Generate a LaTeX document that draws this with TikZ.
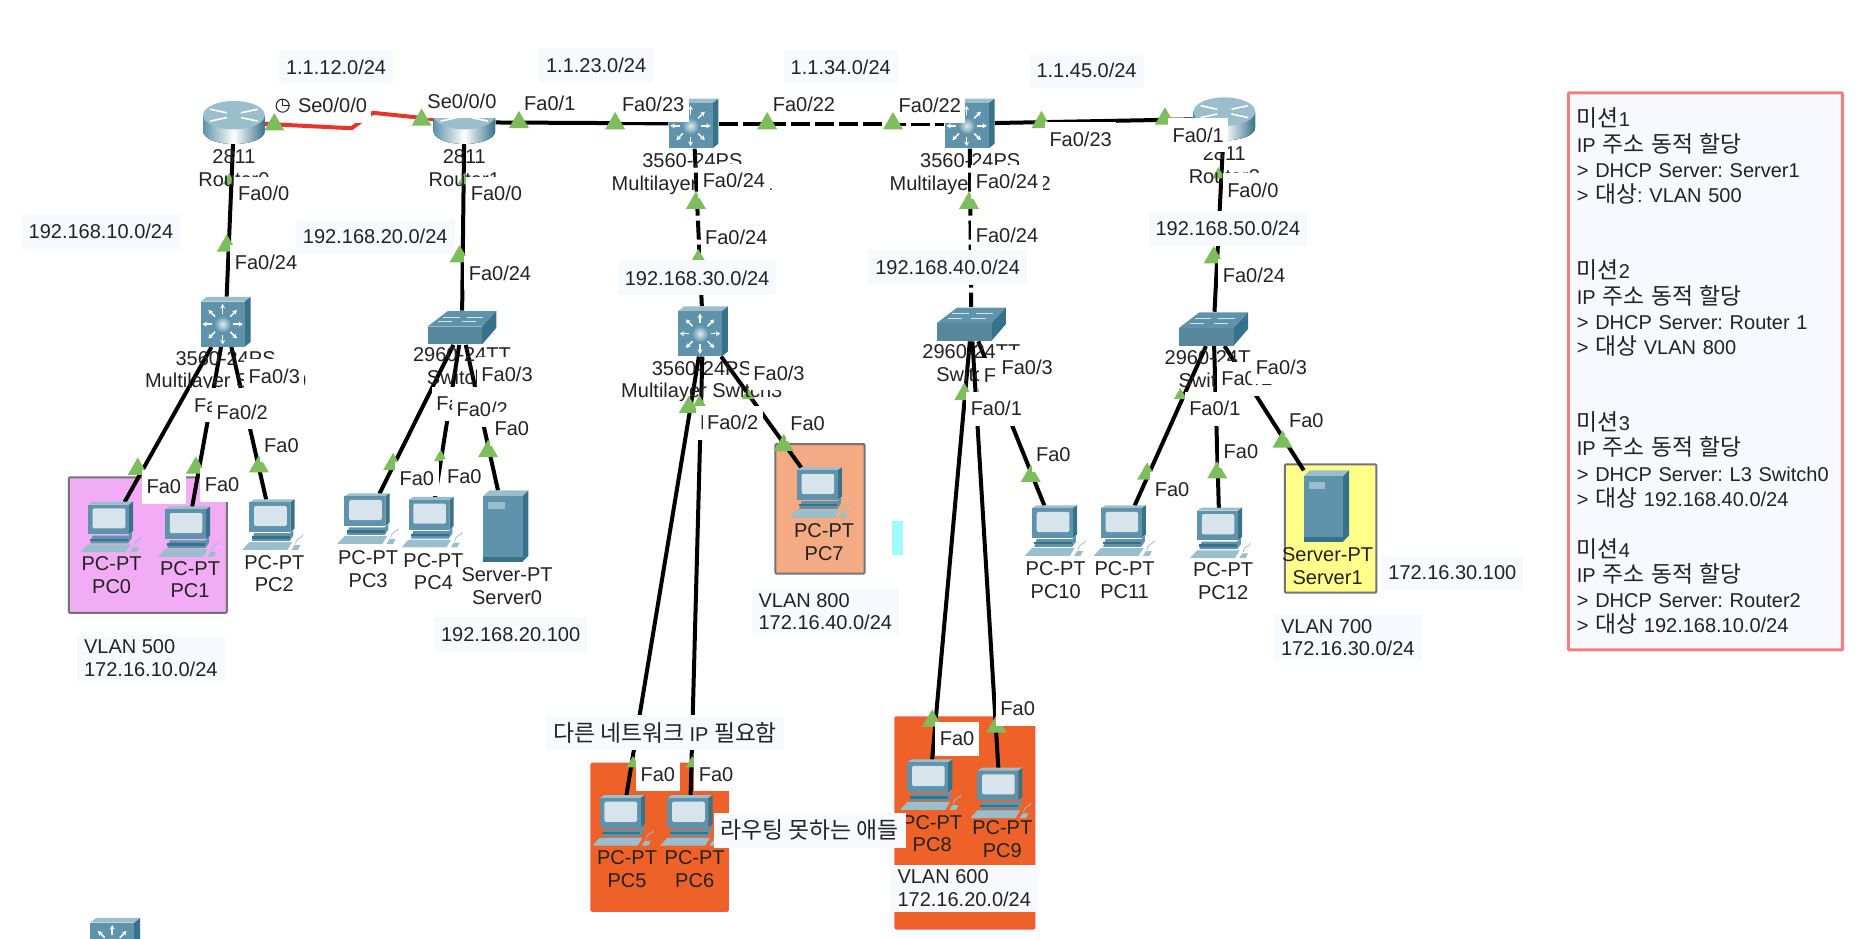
\documentclass[tikz,border=0pt]{standalone}
\usepackage{fontspec}
\setmainfont{Liberation Sans}
\newfontfamily\hangulfont[Scale=1.14]{Noto Sans CJK KR}
\newcommand{\hgl}[1]{{\hangulfont #1}}
\frenchspacing
\usetikzlibrary{shapes.geometric}
\usetikzlibrary{arrows.meta}
\definecolor{devFace}{HTML}{5F93AB}
\definecolor{devSide}{HTML}{37728A}
\definecolor{devTop}{HTML}{9BBECC}
\definecolor{devScreen}{HTML}{D8E4EC}
\definecolor{markGreen}{HTML}{7DBD5C}
\definecolor{noteBg}{HTML}{F8F9FF}
\definecolor{serialRed}{HTML}{E8342A}
\definecolor{missionRed}{HTML}{F08080}
\definecolor{inkDark}{HTML}{222222}
\tikzset{
  % node options
  pcdev/.style={inner sep=0,minimum width=55pt,minimum height=50pt},
  serverdev/.style={inner sep=0,minimum width=45pt,minimum height=71pt},
  routerdev/.style={inner sep=0,minimum width=62pt,minimum height=42pt},
  ltdev/.style={inner sep=0,minimum width=50pt,minimum height=50pt},
  swdev/.style={inner sep=0,minimum width=69pt,minimum height=34pt},
  devlabel/.style={inner sep=0,align=center,text=inkDark,font=\fontsize{20}{22.6}\selectfont},
  portlabel/.style={fill=white,text=inkDark,inner xsep=4.5pt,inner ysep=0pt,minimum height=34pt,font=\fontsize{20}{22.6}\selectfont},
  notebox/.style={fill=noteBg,text=inkDark,inner xsep=7pt,inner ysep=5pt,minimum height=35pt,align=left,font=\fontsize{20}{22.6}\selectfont},
  portmark/.style={regular polygon,regular polygon sides=3,fill=markGreen,inner sep=0,minimum size=23pt},
  portmarksmall/.style={portmark,minimum size=15pt},
  % path options
  ethlink/.style={line width=4pt,black},
  crosslink/.style={ethlink,dash pattern=on 19pt off 5pt},
  seriallink/.style={line width=4pt,serialRed},
  areabox/.style={line width=2pt,rounded corners=1pt},
  % device icons
  pcicon/.pic={
    \fill[devTop] (-19,-19) -- (-15,-21.5) -- (19,-21.5) -- (15.5,-19) -- cycle;
    \fill[devSide] (15.5,-19) -- (19,-21.5) -- (19,3) -- (15.5,6) -- cycle;
    \fill[devFace] (-19,-19) rectangle (15.5,6);
    \fill[devScreen,rounded corners=1.5pt] (-15,-16) rectangle (12.5,1);
    \fill[devFace] (-15,7) -- (15,7) -- (18,4) -- (18,9) -- (15,13.5) -- (-17,13.5) -- cycle;
    \fill[devSide] (-17,9.5) rectangle (15,11.5);
    \fill[devTop] (-25,21) -- (-19,14.5) -- (17,14.5) -- (13,21) -- cycle;
    \fill[devTop] (16.5,21) -- (19,17) -- (24,17) -- (22,21) -- cycle;
    \draw[devTop,line width=.8pt] (20,16) .. controls (20,10) and (27,11) .. (26,8);
  },
  servericon/.pic={
    \fill[devTop] (-19,-25) -- (-14,-30) -- (19,-30) -- (14,-25) -- cycle;
    \fill[devSide] (14,-25) -- (19,-30) -- (19,25) -- (14,30) -- cycle;
    \fill[devFace] (-19,-25) rectangle (14,30);
    \fill[devTop] (-15,-20) rectangle (-1,-14);
    \fill[devSide] (-19,26) rectangle (14,30);
  },
  routericon/.pic={
    \fill[left color=devFace,right color=devSide,middle color=white] (-26,-6) -- (-26,7) .. controls (-26,22) and (26,22) .. (26,7) -- (26,-6) -- cycle;
    \fill[devTop] (0,-6) ellipse [x radius=26,y radius=12];
    \draw[white,line width=1.6pt] (-20,-11) -- (-6,-8) (-20,-1) -- (-6,-4) (20,-11) -- (6,-8) (20,-1) -- (6,-4);
  },
  lticon/.pic={
    \fill[devTop] (-21,-17) -- (-16,-21) -- (21,-21) -- (16,-17) -- cycle;
    \fill[devSide] (16,-17) -- (21,-21) -- (21,17) -- (16,21) -- cycle;
    \fill[devFace] (-21,-17) rectangle (16,21);
    \begin{scope}[shift={(-2.5,2)}]
      \foreach \ang in {0,45,...,315}
        \draw[white,line width=1.5pt,-{Stealth[length=4.5pt,width=5pt]}] (\ang:9) -- (\ang:17);
      \shade[inner color=white!70!devTop,outer color=devFace] (0,0) circle [radius=7];
    \end{scope}
  },
  swicon/.pic={
    \fill[devFace] (-29,-1) -- (-12,-14) -- (29,-14) -- (17,-1) -- cycle;
    \fill[devSide] (17,-1) -- (29,-14) -- (29,0) -- (17,14) -- cycle;
    \fill[devFace!92!black] (-29,-1) rectangle (17,14);
    \draw[white!75!devFace,line width=1pt] (-16,-9) -- (-2,-9) (4,-9) -- (18,-9) (-20,-5) -- (-8,-5) (0,-5) -- (12,-5);
  },
}

\begin{document}
\begin{tikzpicture}[x=1.1875pt,y=-1.1875pt]
  \useasboundingbox (0,0) rectangle (1568,790);
  % coloured areas
  \draw[areabox,draw=black!55,fill={rgb,255:red,242;green,172;blue,245}] (58,402) rectangle (191,516);
  \draw[areabox,draw=black!55,fill={rgb,255:red,244;green,171;blue,131}] (653,374) rectangle (728,483);
  \draw[areabox,draw={rgb,255:red,241;green,91;blue,58},fill={rgb,255:red,238;green,98;blue,41}] (498,643) rectangle (613,767);
  \draw[areabox,draw={rgb,255:red,241;green,91;blue,58},fill={rgb,255:red,238;green,98;blue,41}] (754,604) rectangle (871,782);
  \draw[areabox,draw=black!55,fill={rgb,255:red,255;green,255;blue,138}] (1082,391) rectangle (1159,499);
  \fill[fill={rgb,255:red,160;green,251;blue,255}] (751,439) rectangle (760,467);

  % devices
  \foreach \nm/\x/\y in {router0/197/103,router1/391/103,router2/1031/100}
    \node[routerdev] (\nm) at (\x,\y) {};
  \foreach \nm/\x/\y in {ms0/190/271,ms1/584/104,ms2/816.5/104,ms3/592/279,ms4/97/794}
    \node[ltdev] (\nm) at (\x,\y) {};
  \foreach \nm/\x/\y in {sw0/389/276,sw1/818/273,sw2/1022/277}
    \node[swdev] (\nm) at (\x,\y) {};
  \foreach \n/\x/\y in {0/93/444,1/158/448,2/229/442,3/309/437,4/363/440,5/524/691,6/581/691,7/690/415,8/783/661,9/842/668,10/888/447,11/946/447,12/1027/449}
    \node[pcdev] (pc\n) at (\x,\y) {};
  \node[serverdev] (server0) at (426,443) {};
  \node[serverdev] (server1) at (1117,426) {};

  % links
  \coordinate (serialA) at (296,108);
  \coordinate (serialB) at (314,95);
  \draw[seriallink] (router0) -- (serialA) -- (serialB) -- (router1);
  \foreach \a/\b in {router1/ms1,ms2/router2,router0/ms0,router1/sw0,router2/sw2,
      ms0/pc0,ms0/pc1,ms0/pc2,sw0/pc3,sw0/pc4,sw0/server0,ms3/pc5,ms3/pc6,ms3/pc7,
      sw1/pc8,sw1/pc9,sw1/pc10,sw2/pc11,sw2/pc12,sw2/server1}
    \draw[ethlink] (\a) -- (\b);
  \foreach \a/\b in {ms1/ms2,ms1/ms3,ms2/sw1}
    \draw[crosslink] (\a) -- (\b);

  % icons
  \foreach \nm in {router0,router1,router2}
    \pic at (\nm) {routericon};
  \foreach \nm in {ms0,ms1,ms2,ms3,ms4}
    \pic at (\nm) {lticon};
  \foreach \nm in {sw0,sw1,sw2}
    \pic at (\nm) {swicon};
  \foreach \n in {0,...,12}
    \pic at (pc\n) {pcicon};
  \pic at (server0) {servericon};
  \pic at (server1) {servericon};

  % link lights
  \foreach \x/\y [count=\i] in {877/103,981/100,
      191/207,387/216,586/171,816/171,1022/217,116/395,165/394,218/393,331/391,411/380,
      580/343,660/375,812/332,785/607,839/612,868/401,966/399,1025/398,1080/372}
    \node[portmark] (light\i) at (\x,\y) {};
  \foreach \x/\y [count=\i] in {193/152,391/152,588/216,817/226,1026/147,371/385,589/339,630/333,825/332,994/333,533/643,583/643}
    \node[portmarksmall] (lightsmall\i) at (\x,\y) {};

  % device names
  \foreach \nm/\x/\y/\txt in {a/197/141.5/{2811\\Router0},b/391/141.5/{2811\\Router1},c/1031/139/{2811\\Router2},
      d/190/313/{3560-24PS\\Multilayer Switch0},e/583/146.5/{3560-24PS\\Multilayer Switch1},
      f/817/146.5/{3560-24PS\\Multilayer Switch2},g/591/321.5/{3560-24PS\\Multilayer Switch3},
      h/389/308.5/{2960-24TT\\Switch0},i/818/306/{2960-24TT\\Switch1},j/1022/311/{2960-24TT\\Switch2},
      k/94/484.5/{PC-PT\\PC0},l/160/488/{PC-PT\\PC1},m/231/483/{PC-PT\\PC2},n/310/479.5/{PC-PT\\PC3},
      o/365/481.5/{PC-PT\\PC4},p/528/732/{PC-PT\\PC5},q/585/732/{PC-PT\\PC6},r/694/456.5/{PC-PT\\PC7},
      s/785/702/{PC-PT\\PC8},t/844/706.5/{PC-PT\\PC9},u/889/488.5/{PC-PT\\PC10},v/947/488.5/{PC-PT\\PC11},
      w/1030/489.5/{PC-PT\\PC12},x/427/493.5/{Server-PT\\Server0},y/1118/476.5/{Server-PT\\Server1}}
    \node[devlabel] (name\nm) at (\x,\y) {\txt};

  % port labels, later ones lie over earlier ones
  \foreach \x/\y/\txt [count=\i] in {280/89/{Se0/0/0},389/85/{Se0/0/0},463/87/{Fa0/1},550/88/{Fa0/23},
      677/88/{Fa0/22},783/89/{Fa0/22},910/117/{Fa0/23},1009/114/{Fa0/1},
      222/163/{Fa0/0},224/221/{Fa0/24},418/163/{Fa0/0},421/230/{Fa0/24},
      618/152/{Fa0/24},620/200/{Fa0/24},848/153/{Fa0/24},848/198/{Fa0/24},1055/160/{Fa0/0},1056/232/{Fa0/24},
      185/341/{Fa0/1},204/347/{Fa0/2},231/317/{Fa0/3},237/375/{Fa0},138/410/{Fa0},187/408/{Fa0},
      389/340/{Fa0/1},406/345/{Fa0/2},427/315/{Fa0/3},431/361/{Fa0},351/403/{Fa0},391/401/{Fa0},
      656/314/{Fa0/3},611/356/{Fa0/1},617/356/{Fa0/2},680/357/{Fa0},554/652/{Fa0},603/652/{Fa0},
      850/316/{Fa0/2},865/309/{Fa0/3},839/344/{Fa0/1},887/383/{Fa0},806/622/{Fa0},857/597/{Fa0},
      1050/319/{Fa0/2},1079/309/{Fa0/3},1023/344/{Fa0/1},1100/354/{Fa0},987/412/{Fa0},1045/380/{Fa0}}
    \node[portlabel] (port\i) at (\x,\y) {\txt};
  \foreach \x/\y [count=\i] in {231/105,355/101,437/103,518/104,646/104,752/104}
    \node[portmark] (lighttop\i) at (\x,\y) {};
  \node[circle,draw=inkDark,line width=1pt,inner sep=0,minimum size=13pt] (clock) at (238,89) {};
  \draw[inkDark,line width=1pt] (clock.north) -- (clock.center) -- (clock.east);

  % notes
  \foreach \nm/\x/\y/\txt in {a/283/57/{1.1.12.0/24},b/502/55/{1.1.23.0/24},c/708/57/{1.1.34.0/24},d/915/59/{1.1.45.0/24},
      e/85/195/{192.168.10.0/24},f/316/199/{192.168.20.0/24},g/587/234/{192.168.30.0/24},h/798/225/{192.168.40.0/24},
      i/1034/192/{192.168.50.0/24},j/430/534/{192.168.20.100},k/1223/482/{172.16.30.100},
      l/127/554/{VLAN 500\\172.16.10.0/24},m/695/515/{VLAN 800\\172.16.40.0/24},
      n/1135/537/{VLAN 700\\172.16.30.0/24},o/812/748/{VLAN 600\\172.16.20.0/24}}
    \node[notebox] (note\nm) at (\x,\y) {\txt};
  \node[notebox] (noteother) at (560,617) {\hgl{다른 네트워크} IP \hgl{필요함}};
  \node[notebox] (noterouting) at (682,699) {\hgl{라우팅 못하는 애들}};

  % missions
  \node[notebox,draw=missionRed,line width=3pt,rounded corners=1pt,anchor=north west,text width=257pt,
    inner xsep=8.5pt,minimum height=557pt,font=\fontsize{20}{25.3}\selectfont] (mission) at (1319.5,77) {%
    \hgl{미션}1\\IP \hgl{주소 동적 할당}\\> DHCP Server: Server1\\> \hgl{대상}: VLAN 500\\~\\~\\
    \hgl{미션}2\\IP \hgl{주소 동적 할당}\\> DHCP Server: Router 1\\> \hgl{대상} VLAN 800\\~\\~\\
    \hgl{미션}3\\IP \hgl{주소 동적 할당}\\> DHCP Server: L3 Switch0\\> \hgl{대상} 192.168.40.0/24\\~\\
    \hgl{미션}4\\IP \hgl{주소 동적 할당}\\> DHCP Server: Router2\\> \hgl{대상} 192.168.10.0/24};
\end{tikzpicture}
\end{document}
